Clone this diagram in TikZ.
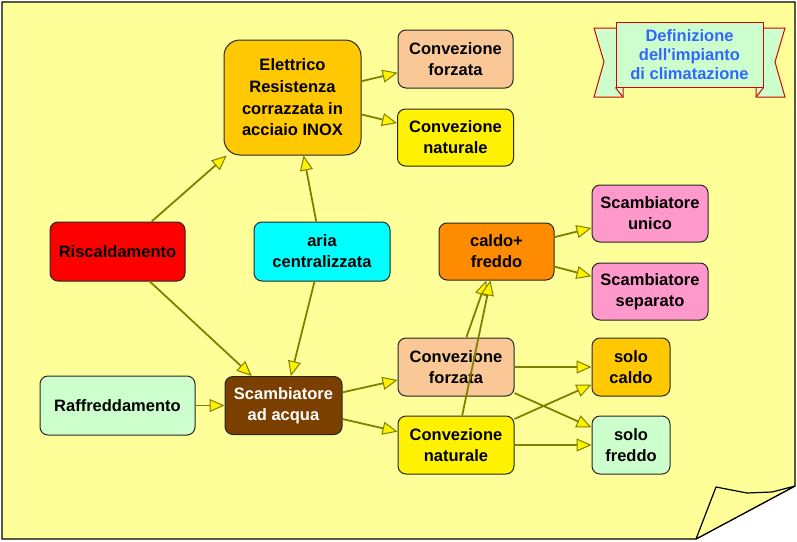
\documentclass[tikz,border=0pt]{standalone}
\usepackage{fontspec}
\newfontfamily\diagfont{Liberation Sans}
\usetikzlibrary{arrows.meta, positioning}
\definecolor{paper}{RGB}{255,255,153}
\definecolor{gold}{RGB}{255,200,0}
\definecolor{peach}{RGB}{250,200,150}
\definecolor{deeporange}{RGB}{255,140,0}
\definecolor{pinkish}{RGB}{255,153,204}
\definecolor{mint}{RGB}{204,255,204}
\definecolor{aqua}{RGB}{0,255,255}
\definecolor{brownish}{RGB}{123,63,0}
\definecolor{arrowcol}{RGB}{128,128,0}
\definecolor{titleblue}{RGB}{51,102,255}

\begin{document}
\begin{tikzpicture}[x=1pt, y=-1pt, node distance=20pt and 37pt,
    box/.style={rectangle, draw=black!85, line width=1pt, rounded corners=8pt, align=center, inner sep=0pt,
        minimum width=116pt, minimum height=58pt, font=\diagfont\bfseries\fontsize{16.5}{21}\selectfont},
    line/.style={draw=arrowcol, line width=1.8pt, -{Triangle[length=15pt, width=13pt, fill=yellow, line width=1pt]}}]
    \useasboundingbox (0,0) rectangle (797,541);
    % sheet of paper with the curled corner
    \fill[white] (0,0) rectangle (797,541);
    \draw[fill=paper, line width=1.2pt] (2,2) -- (795,2) -- (795,486) -- (696,539) -- (2,539) -- cycle;
    \draw[fill=paper, line width=1.2pt, line join=round] (696,539) -- (716,487) -- (747,493) -- (772,492) -- (795,486) -- cycle;
    % title ribbon
    \draw[fill=mint, draw=red!85!black, line width=1pt] (594,28) -- (623,28) -- (623,97) -- (594,97) -- (604,62) -- cycle;
    \draw[fill=mint, draw=red!85!black, line width=1pt] (785,28) -- (756,28) -- (756,97) -- (785,97) -- (775,62) -- cycle;
    \node [draw=red!85!black, fill=mint, line width=1pt, minimum width=147pt, minimum height=65pt, align=center,
        text=titleblue, font=\diagfont\bfseries\fontsize{16.5}{19}\selectfont] (title) at (689.5,54.5)
        {Definizione\\dell\textquotesingle impianto\\di climatazione};
    \draw[draw=red!85!black, line width=1pt] (title.south west) .. controls (618,91) .. (623,97);
    \draw[draw=red!85!black, line width=1pt] (title.south east) .. controls (761,91) .. (756,97);
    % boxes
    \node [box, fill=gold, minimum width=137pt, minimum height=115pt, rounded corners=16pt,
        font=\diagfont\bfseries\fontsize{16.5}{21.7}\selectfont] (elettrico) at (292.5,97.5) {Elettrico\\Resistenza\\corrazzata in\\acciaio INOX};
    \node [box, fill=peach, minimum width=115pt] (forzataA) at (455.5,59) {Convezione\\forzata};
    \node [box, fill=yellow, minimum height=57pt, below=20pt of forzataA] (naturaleA) {Convezione\\naturale};
    \node [box, fill=red, minimum width=135pt, minimum height=59pt] (risc) at (117.5,251.5) {Riscaldamento};
    \node [box, fill=aqua, minimum width=136pt, minimum height=59pt, right=68pt of risc] (aria) {aria\\centralizzata};
    \node [box, fill=deeporange, minimum width=115pt, minimum height=57pt, right=48pt of aria] (caldofreddo) {caldo+\\freddo};
    \node [box, fill=pinkish, minimum height=57pt] (unico) at (650,213.5) {Scambiatore\\unico};
    \node [box, fill=pinkish, minimum height=57pt, below=20pt of unico] (separato) {Scambiatore\\separato};
    \node [box, fill=mint, minimum width=155pt, minimum height=59pt] (raff) at (117.5,405.5) {Raffreddamento};
    \node [box, fill=brownish, text=white, minimum width=117pt, right=29pt of raff] (acqua) {Scambiatore\\ad acqua};
    \node [box, fill=peach] (forzataB) at (456,367) {Convezione\\forzata};
    \node [box, fill=yellow, below=19pt of forzataB] (naturaleB) {Convezione\\naturale};
    \node [box, fill=gold, minimum width=78pt] (solocaldo) at (631,367) {solo\\caldo};
    \node [box, fill=mint, minimum width=78pt, below=19pt of solocaldo] (solofreddo) {solo\\freddo};
    % connectors
    \path [line] (risc) -- (elettrico);
    \path [line] (risc) -- (acqua);
    \path [line] (aria) -- (elettrico);
    \path [line] (aria) -- (acqua);
    \path [line] (raff) -- (acqua);
    \path [line] (elettrico) -- (forzataA);
    \path [line] (elettrico) -- (naturaleA);
    \path [line] (acqua) -- (forzataB);
    \path [line] (acqua) -- (naturaleB);
    \path [line] (forzataB) -- (caldofreddo);
    \path [line] (naturaleB) -- (caldofreddo);
    \path [line] (caldofreddo) -- (unico);
    \path [line] (caldofreddo) -- (separato);
    \path [line] (forzataB) -- (solocaldo);
    \path [line] (forzataB) -- (solofreddo);
    \path [line] (naturaleB) -- (solocaldo);
    \path [line] (naturaleB) -- (solofreddo);
\end{tikzpicture}
\end{document}
